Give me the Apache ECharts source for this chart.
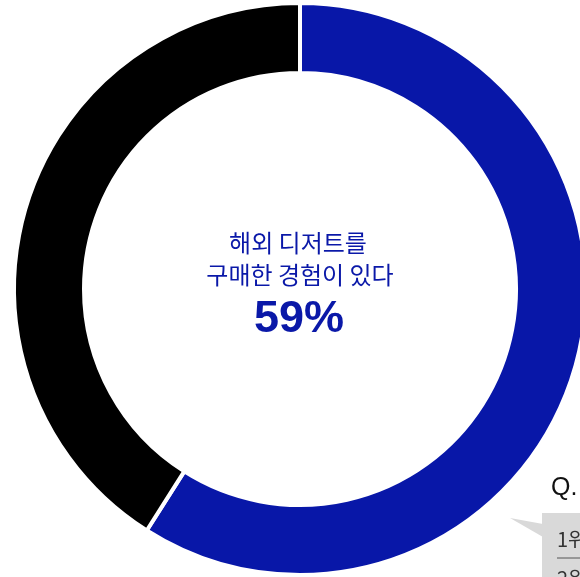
<!DOCTYPE html>
<html>
<head>
<meta charset="utf-8">
<script src="https://cdn.jsdelivr.net/npm/echarts@6/dist/echarts.min.js"></script>
<style>
html,body{margin:0;padding:0;background:#fff;}
#c{width:580px;height:577px;}
</style>
</head>
<body>
<div id="c"></div>
<script>
const categories = ['해외 디저트를 구매한 경험이 있다', '없다'];
const values = [59, 41];
const colors = ['#0817a8', '#000000'];
const centerLines = ['해외 디저트를', '구매한 경험이 있다'];
const centerValue = '59%';
const questionLabel = 'Q.';
const rankLabels = ['1위', '2위'];

const chart = echarts.init(document.getElementById('c'), null, {renderer: 'canvas'});
const blue = '#0a18a8';
chart.setOption({
  animation: false,
  series: [{
    type: 'pie',
    center: [300, 289],
    radius: [216, 286],
    startAngle: 90,
    clockwise: true,
    silent: true,
    label: {show: false},
    labelLine: {show: false},
    itemStyle: {borderColor: '#ffffff', borderWidth: 4},
    data: categories.map((c, i) => ({name: c, value: values[i], itemStyle: {color: colors[i]}}))
  }],
  graphic: [
    {type: 'text', x: 298, y: 243, style: {text: centerLines[0], fill: blue, font: '24px "Noto Sans CJK KR"', align: 'center', verticalAlign: 'middle'}},
    {type: 'text', x: 300, y: 275, style: {text: centerLines[1], fill: blue, font: '24px "Noto Sans CJK KR"', align: 'center', verticalAlign: 'middle'}},
    {type: 'text', x: 299, y: 320, style: {text: centerValue, fill: blue, font: 'bold 45px "Liberation Sans", Arial, sans-serif', align: 'center', verticalAlign: 'middle'}},
    {type: 'text', x: 551, y: 488, style: {text: questionLabel, fill: '#111', font: '25px "Liberation Sans", Arial, sans-serif', align: 'left', verticalAlign: 'middle'}},
    {type: 'polygon', shape: {points: [[510, 518], [543, 524], [543, 537]]}, style: {fill: '#d9d9d9'}},
    {type: 'rect', shape: {x: 542, y: 513, width: 60, height: 80}, style: {fill: '#d9d9d9'}},
    {type: 'text', x: 557, y: 539, style: {text: rankLabels[0], fill: '#333', font: '20px "Noto Sans CJK KR"', align: 'left', verticalAlign: 'middle'}},
    {type: 'line', shape: {x1: 557, y1: 558, x2: 600, y2: 558}, style: {stroke: '#555', lineWidth: 1}},
    {type: 'text', x: 557, y: 578, style: {text: rankLabels[1], fill: '#333', font: '20px "Noto Sans CJK KR"', align: 'left', verticalAlign: 'middle'}}
  ]
});
</script>
</body>
</html>
